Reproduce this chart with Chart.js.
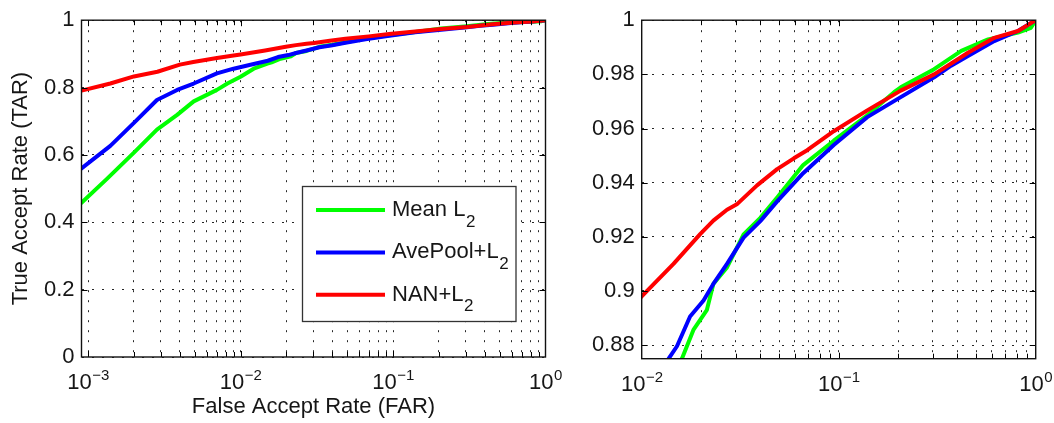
<!DOCTYPE html>
<html><head><meta charset="utf-8">
<script src="https://cdn.jsdelivr.net/npm/chart.js@4.4.1/dist/chart.umd.min.js"></script>
<style>
html,body{margin:0;padding:0;background:#fff;}
#wrap{position:relative;width:1054px;height:423px;overflow:hidden;background:#fff;}
#c1{position:absolute;left:0;top:0;}
#c2{position:absolute;left:560px;top:0;}
</style></head><body>
<div id="wrap"><canvas id="c1" width="620" height="423"></canvas><canvas id="c2" width="494" height="423"></canvas></div>
<script>
// ---------------- data ----------------
const seriesLabels = ['Mean L', 'AvePool+L', 'NAN+L'];
const seriesSubscripts = ['2', '2', '2'];
const seriesColors = ['#00ff00', '#0000ff', '#ff0000'];

const meanFAR = [0.000906,0.00133,0.002,0.00283,0.00384,0.00493,0.007,0.0082,0.01,0.0122,0.015,0.016,0.0183,0.0214,0.0231,0.0271,0.0329,0.04,0.0487,0.066,0.0944,0.1396,0.191,0.2065,0.305,0.419,0.573,0.813,0.946,1];
const meanTAR = [0.458,0.529,0.607,0.675,0.719,0.759,0.793,0.812,0.832,0.856,0.871,0.875,0.8856,0.8929,0.9026,0.9087,0.9209,0.927,0.9345,0.9465,0.9555,0.9649,0.9734,0.9752,0.9819,0.9887,0.9929,0.9954,0.9972,1];

const avePoolFAR = [0.000906,0.0014,0.002,0.00283,0.00384,0.00493,0.007,0.009,0.0122,0.0137,0.0151,0.0176,0.0206,0.0231,0.0271,0.0329,0.04,0.0487,0.066,0.0944,0.1396,0.2065,0.305,0.372,0.453,0.616,0.813,1];
const avePoolTAR = [0.560,0.627,0.695,0.763,0.793,0.812,0.842,0.856,0.870,0.875,0.8796,0.8906,0.8965,0.9026,0.910,0.9197,0.9258,0.9331,0.9435,0.9539,0.9642,0.9716,0.9789,0.9832,0.9868,0.9923,0.996,1];

const nanFAR = [0.000906,0.0014,0.002,0.00285,0.004,0.0049,0.007,0.009,0.01,0.0145,0.0198,0.0231,0.0271,0.0304,0.0385,0.0487,0.0592,0.0692,0.0944,0.1396,0.2065,0.305,0.453,0.616,0.813,1];
const nanTAR = [0.791,0.812,0.833,0.847,0.868,0.876,0.888,0.895,0.898,0.910,0.921,0.926,0.930,0.932,0.939,0.945,0.949,0.952,0.959,0.9667,0.974,0.980,0.988,0.9935,0.996,1];

const leftXMajor = [0.001, 0.01, 0.1, 1];
const leftXTickLabels = [['10','\u22123'], ['10','\u22122'], ['10','\u22121'], ['10','0']];
const rightXMajor = [0.01, 0.1, 1];
const rightXTickLabels = [['10','\u22122'], ['10','\u22121'], ['10','0']];
const leftYTicks = [0, 0.2, 0.4, 0.6, 0.8, 1];
const leftYTickLabels = ['0', '0.2', '0.4', '0.6', '0.8', '1'];
const rightYTicks = [0.88, 0.9, 0.92, 0.94, 0.96, 0.98, 1];
const rightYTickLabels = ['0.88', '0.9', '0.92', '0.94', '0.96', '0.98', '1'];
const xTitle = 'False Accept Rate (FAR)';
const yTitle = 'True Accept Rate (TAR)';

// ---------------- helpers ----------------
const FONT = '"Liberation Sans", Arial, sans-serif';
const TXT = '#161616';

function pts(xs, ys) { return xs.map((x, i) => ({x: x, y: ys[i]})); }
function logTicks(majors) {
  const out = [];
  for (let i = 0; i < majors.length; i++) {
    out.push({value: majors[i]});
    if (i < majors.length - 1) {
      for (let m = 2; m <= 9; m++) out.push({value: Number((majors[i] * m).toPrecision(3))});
    }
  }
  return out;
}
function isMajor(v) { const l = Math.log10(v); return Math.abs(l - Math.round(l)) < 1e-9; }

function makeDatasets() {
  const xs = [meanFAR, avePoolFAR, nanFAR], ys = [meanTAR, avePoolTAR, nanTAR];
  return [0, 1, 2].map(i => ({
    label: seriesLabels[i] + seriesSubscripts[i],
    data: pts(xs[i], ys[i]),
    borderColor: seriesColors[i],
    backgroundColor: seriesColors[i],
    borderWidth: 4,
    pointRadius: 0,
    tension: 0,
    fill: false,
    order: 2 - i,
    borderJoinStyle: 'round',
    borderCapStyle: 'round'
  }));
}

function framePlugin(cfg) {
  return {
    id: 'frame' + cfg.name,
    afterDatasetsDraw(chart) {
      const ctx = chart.ctx, a = chart.chartArea, xs = chart.scales.x, ys = chart.scales.y;
      ctx.save();
      ctx.strokeStyle = '#000';
      ctx.lineWidth = 1;
      ctx.beginPath();
      xs.ticks.forEach(t => {
        const px = Math.round(xs.getPixelForValue(t.value)) + 0.5;
        if (px < a.left + 1 || px > a.right - 1) return;
        const len = isMajor(t.value) ? 6 : 5;
        ctx.moveTo(px, a.bottom); ctx.lineTo(px, a.bottom - len);
        ctx.moveTo(px, a.top); ctx.lineTo(px, a.top + len);
      });
      ys.ticks.forEach(t => {
        const py = Math.round(ys.getPixelForValue(t.value)) + 0.5;
        if (py < a.top + 1 || py > a.bottom - 1) return;
        ctx.moveTo(a.left, py); ctx.lineTo(a.left + 6, py);
        ctx.moveTo(a.right, py); ctx.lineTo(a.right - 6, py);
      });
      ctx.stroke();
      ctx.lineWidth = 1.4;
      ctx.strokeStyle = '#111';
      ctx.strokeRect(a.left, a.top, a.right - a.left, a.bottom - a.top);
      ctx.fillStyle = TXT;
      ctx.textAlign = 'left';
      ctx.textBaseline = 'alphabetic';
      cfg.xMajor.forEach((v, i) => {
        const base = cfg.xLabels[i][0], exp = cfg.xLabels[i][1];
        ctx.font = '22px ' + FONT;
        const wb = ctx.measureText(base).width;
        ctx.font = '15px ' + FONT;
        const we = ctx.measureText(exp).width;
        const cx = xs.getPixelForValue(v);
        const x0 = cx - (wb + we) / 2;
        const by = a.bottom + cfg.labelBase;
        ctx.font = '22px ' + FONT;
        ctx.fillText(base, x0, by);
        ctx.font = '15px ' + FONT;
        ctx.fillText(exp, x0 + wb + 0.5, by - 9);
      });
      if (cfg.legend) {
        const bx = a.right - 243, by = a.bottom - 170.5, bw = 213.5, bh = 135;
        ctx.fillStyle = '#fff';
        ctx.fillRect(bx, by, bw, bh);
        ctx.strokeStyle = '#333';
        ctx.lineWidth = 1.3;
        ctx.strokeRect(bx, by, bw, bh);
        for (let i = 0; i < seriesLabels.length; i++) {
          const ly = by + 23.5 + i * 42.4;
          ctx.strokeStyle = seriesColors[i];
          ctx.lineWidth = 4;
          ctx.beginPath();
          ctx.moveTo(bx + 13.5, ly); ctx.lineTo(bx + 82.5, ly);
          ctx.stroke();
          ctx.fillStyle = TXT;
          ctx.font = '22px ' + FONT;
          ctx.fillText(seriesLabels[i], bx + 89.5, ly + 6);
          const w = ctx.measureText(seriesLabels[i]).width;
          ctx.font = '17px ' + FONT;
          ctx.fillText(seriesSubscripts[i], bx + 89.5 + w + 0.5, ly + 16.5);
        }
      }
      ctx.restore();
    }
  };
}

function makeChart(canvasId, cfg) {
  return new Chart(document.getElementById(canvasId), {
    type: 'line',
    data: { datasets: makeDatasets() },
    options: {
      responsive: false,
      animation: false,
      devicePixelRatio: 1,
      layout: { padding: cfg.padding },
      plugins: { legend: { display: false }, tooltip: { enabled: false } },
      scales: {
        x: {
          type: 'logarithmic',
          min: cfg.xMin, max: 1,
          afterBuildTicks: s => { s.ticks = logTicks(cfg.xMajor); },
          afterFit: s => { s.height = cfg.xAxisHeight; },
          ticks: { display: false, autoSkip: false },
          grid: { color: 'rgba(0,0,0,0.85)', lineWidth: 1, drawTicks: false },
          border: { display: false, dash: [2, 8] },
          title: cfg.showXTitle ? { display: true, text: xTitle, color: TXT, font: { family: FONT, size: 22 }, padding: { top: 0, bottom: 3 } } : { display: false }
        },
        y: {
          type: 'linear',
          min: cfg.yMin, max: 1,
          afterBuildTicks: s => { s.ticks = cfg.yTicks.map(v => ({value: v})); },
          afterFit: s => { s.width = cfg.yAxisWidth; },
          ticks: {
            autoSkip: false, padding: 7, color: TXT, font: { family: FONT, size: 22 },
            callback: (v) => { const k = cfg.yTicks.findIndex(t => Math.abs(t - v) < 1e-9); return k >= 0 ? cfg.yLabels[k] : ''; }
          },
          grid: { color: 'rgba(0,0,0,0.85)', lineWidth: 1, drawTicks: false },
          border: { display: false, dash: [2, 8] },
          title: cfg.showYTitle ? { display: true, text: yTitle, color: TXT, font: { family: FONT, size: 22 }, padding: { top: 8, bottom: 0 } } : { display: false }
        }
      }
    },
    plugins: [framePlugin(cfg)]
  });
}

makeChart('c1', {
  name: 'L', padding: { top: 16, right: 74.5, bottom: 0, left: 0 },
  xMin: 0.000906, yMin: 0, xMajor: leftXMajor, xLabels: leftXTickLabels,
  yTicks: leftYTicks, yLabels: leftYTickLabels,
  xAxisHeight: 66, yAxisWidth: 81.5, showXTitle: true, showYTitle: true,
  labelBase: 31.5, legend: true
});
makeChart('c2', {
  name: 'R', padding: { top: 17.3, right: 18.3, bottom: 0, left: 0 },
  xMin: 0.01, yMin: 0.875, xMajor: rightXMajor, xLabels: rightXTickLabels,
  yTicks: rightYTicks, yLabels: rightYTickLabels,
  xAxisHeight: 64.3, yAxisWidth: 81.7, showXTitle: false, showYTitle: false,
  labelBase: 32.5, legend: false
});
</script>
</body></html>
